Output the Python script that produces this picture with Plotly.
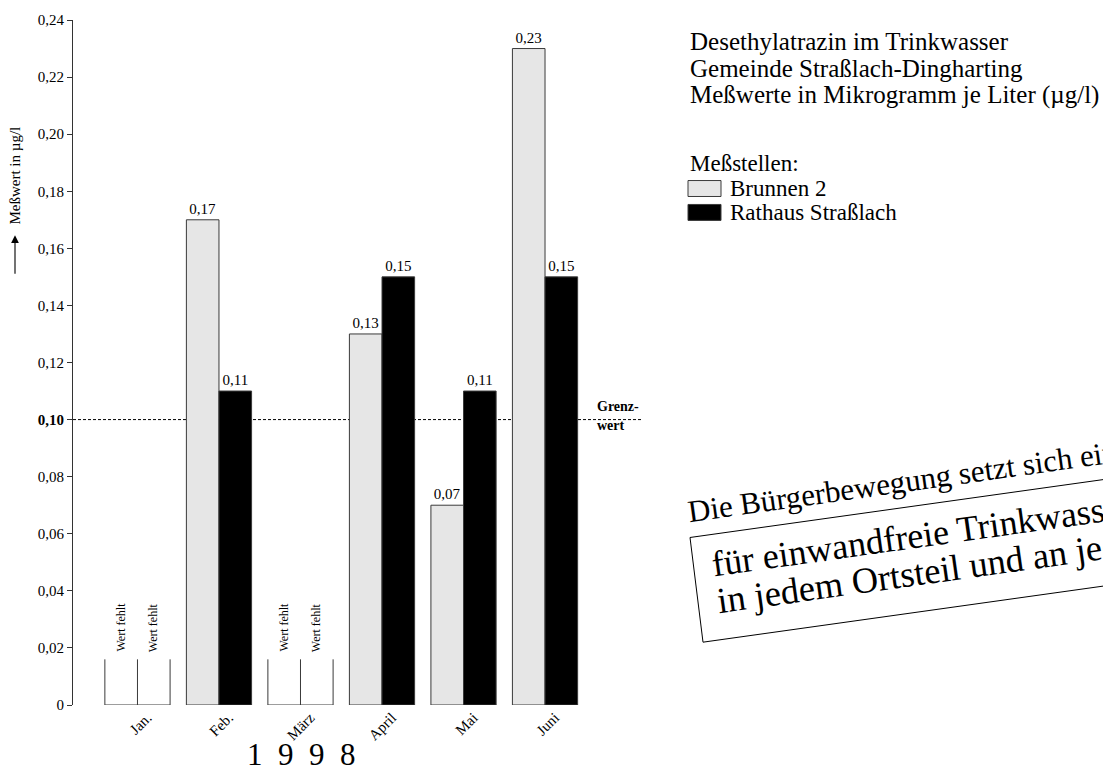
import math
import plotly.graph_objects as go

# ---- data ----
months = ["Jan.", "Feb.", "März", "April", "Mai", "Juni"]
brunnen = [None, 0.17, None, 0.13, 0.07, 0.23]
rathaus = [None, 0.11, None, 0.15, 0.11, 0.15]
grenzwert = 0.10
missing_months = ["Jan.", "März"]
missing_mark_height = 0.016
y_ticks = [0, 0.02, 0.04, 0.06, 0.08, 0.10, 0.12, 0.14, 0.16, 0.18, 0.20, 0.22, 0.24]
y_ticktext = ["0", "0,02", "0,04", "0,06", "0,08", "<b>0,10</b>", "0,12", "0,14",
              "0,16", "0,18", "0,20", "0,22", "0,24"]
year_label = "1998"
title_lines = ["Desethylatrazin im Trinkwasser",
               "Gemeinde Straßlach-Dingharting",
               "Meßwerte in Mikrogramm je Liter (µg/l)"]
series_names = ["Brunnen 2", "Rathaus Straßlach"]
headline = ["Die Bürgerbewegung setzt sich ein",
            "für einwandfreie Trinkwasser",
            "in jedem Ortsteil und an jedem"]

# ---- layout geometry (pixels) ----
W, H = 1103, 770
L, R, T, B = 73, 460, 18, 65
PW, PH = W - L - R, H - T - B
FONT = "Liberation Serif, Times New Roman, serif"
LIGHT = "#e6e6e6"
EDGE = "#3a3a3a"


def px(x):
    return (x - L) / PW


def py(y):
    return (H - B - y) / PH


xs = list(range(len(months)))
bw = 0.4
label_shift = 0.12

fig = go.Figure()
fig.add_trace(go.Bar(
    x=xs, y=brunnen, name=series_names[0], marker_color=LIGHT,
    marker_line=dict(color=EDGE, width=1), texttemplate="%{y:.2f}",
    textposition="outside", textfont=dict(family=FONT, size=15, color="black"),
    cliponaxis=False, showlegend=False))
fig.add_trace(go.Bar(
    x=xs, y=rathaus, name=series_names[1], marker_color="black",
    marker_line=dict(color=EDGE, width=1), texttemplate="%{y:.2f}",
    textposition="outside", textfont=dict(family=FONT, size=15, color="black"),
    cliponaxis=False, showlegend=False))

# open boxes for missing values
bx, by = [], []
for m in missing_months:
    i = months.index(m)
    bx += [i - bw, i - bw, i + bw, i + bw, None, i, i, None]
    by += [missing_mark_height, 0, 0, missing_mark_height, None, 0, missing_mark_height, None]
fig.add_trace(go.Scatter(x=bx, y=by, mode="lines", line=dict(color=EDGE, width=1),
                         showlegend=False, hoverinfo="skip", cliponaxis=False))

annotations = []
for m in missing_months:
    i = months.index(m)
    for off in (-bw / 2, bw / 2):
        annotations.append(dict(x=i + off, y=0.0272, xref="x", yref="y", text="Wert fehlt",
                                textangle=-90, showarrow=False,
                                font=dict(family=FONT, size=12, color="black")))

# Grenzwert line
shapes = [dict(type="line", xref="paper", yref="y", x0=0, x1=1, y0=grenzwert, y1=grenzwert,
               line=dict(color="black", width=1, dash="3px,2px"), layer="below")]
annotations.append(dict(x=px(595), y=py(406), xref="paper", yref="paper", text="<b>Grenz-</b>",
                        xanchor="left", yanchor="middle", showarrow=False,
                        font=dict(family=FONT, size=14, color="black")))
annotations.append(dict(x=px(595), y=py(425), xref="paper", yref="paper", text="<b>wert</b>",
                        xanchor="left", yanchor="middle", showarrow=False,
                        font=dict(family=FONT, size=14, color="black")))

# y axis title with arrow
annotations.append(dict(x=px(15), y=py(174), xref="paper", yref="paper", text="Meßwert in µg/l",
                        textangle=-90, showarrow=False, xanchor="center", yanchor="middle",
                        font=dict(family=FONT, size=15, color="black")))
annotations.append(dict(x=px(15), y=py(234), xref="paper", yref="paper", text="",
                        showarrow=True, ax=0, ay=40, arrowhead=2, arrowsize=1.4,
                        arrowwidth=1.1, arrowcolor="black"))

# year
annotations.append(dict(x=px(301), y=py(774), xref="paper", yref="paper",
                        text="\u00a0\u00a0".join(year_label), showarrow=False,
                        font=dict(family=FONT, size=31, color="black")))

# title block
for t, yc in zip(title_lines, [40, 67, 93]):
    annotations.append(dict(x=px(688), y=py(yc), xref="paper", yref="paper", text=t,
                            xanchor="left", yanchor="middle", showarrow=False,
                            font=dict(family=FONT, size=25, color="black")))

# legend (manual)
annotations.append(dict(x=px(688), y=py(162), xref="paper", yref="paper", text="Meßstellen:",
                        xanchor="left", yanchor="middle", showarrow=False,
                        font=dict(family=FONT, size=23, color="black")))
for name, col, yc in zip(series_names, [LIGHT, "black"], [187, 211]):
    shapes.append(dict(type="rect", xref="paper", yref="paper", x0=px(688), x1=px(721),
                       y0=py(yc - 8), y1=py(yc + 8), fillcolor=col,
                       line=dict(color=EDGE, width=1)))
    annotations.append(dict(x=px(728), y=py(yc), xref="paper", yref="paper", text=name,
                            xanchor="left", yanchor="middle", showarrow=False,
                            font=dict(family=FONT, size=23, color="black")))

# slanted newspaper headline
ang = 8.0
s, c = math.sin(math.radians(ang)), math.cos(math.radians(ang))


def slanted(text, bx0, by0, size):
    hh = 1.15 * size + 2
    d = 0.22 * size + 1
    X = bx0 - (hh - d) * s
    Y = by0 + d * c
    return dict(x=px(X), y=py(Y), xref="paper", yref="paper", text=text, textangle=-ang,
                xanchor="left", yanchor="bottom", showarrow=False,
                font=dict(family=FONT, size=size, color="black"))


annotations.append(slanted(headline[0], 688, 523, 31))
annotations.append(slanted(headline[1], 712, 577, 36))
annotations.append(slanted(headline[2], 717, 614, 36.5))

t = math.tan(math.radians(ang))
xr = 1200
path = (f"M {px(xr)},{py(537 - (xr - 690) * t)} L {px(690)},{py(537)} "
        f"L {px(703)},{py(642)} L {px(xr)},{py(642 - (xr - 703) * t)}")
shapes.append(dict(type="path", xref="paper", yref="paper", path=path,
                   line=dict(color="black", width=1)))

fig.update_layout(
    width=W, height=H, margin=dict(l=L, r=R, t=T, b=B, pad=0),
    paper_bgcolor="white", plot_bgcolor="white",
    barmode="group", bargap=0.2, bargroupgap=0,
    separators=",.",
    font=dict(family=FONT, color="black"),
    showlegend=False,
    xaxis=dict(range=[-0.791, 6.202], tickvals=[x + label_shift for x in xs],
               ticktext=months, tickangle=-45,
               showline=False, showgrid=False, zeroline=False, ticks="",
               tickfont=dict(family=FONT, size=15, color="black")),
    yaxis=dict(range=[0, 0.24], tickvals=y_ticks, ticktext=y_ticktext,
               showline=True, linecolor="#333", linewidth=1, ticks="outside",
               ticklen=5, tickcolor="#333", showgrid=False, zeroline=False,
               tickfont=dict(family=FONT, size=15, color="black")),
    annotations=annotations, shapes=shapes,
)

fig.write_html("out.html", config={"displayModeBar": False},
               post_script="document.body.style.margin='0';document.body.style.overflow='hidden';")
